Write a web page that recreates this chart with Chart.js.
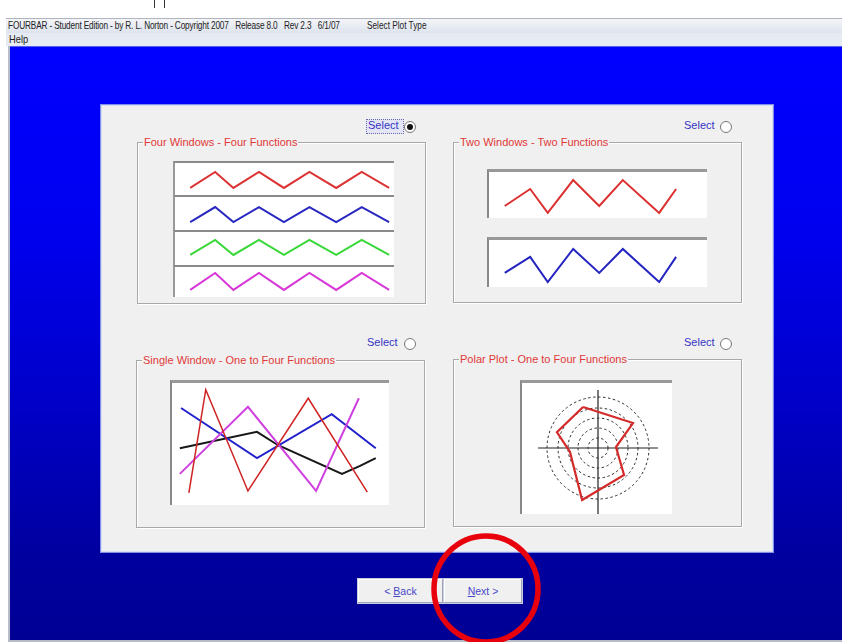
<!DOCTYPE html>
<html><head><meta charset="utf-8">
<script src="https://cdn.jsdelivr.net/npm/chart.js@4.4.0/dist/chart.umd.min.js"></script>
<style>
html,body{margin:0;padding:0;width:842px;height:642px;overflow:hidden;background:#fff;font-family:"Liberation Sans",Arial,sans-serif;}
div,span,canvas,svg{position:absolute;}
#topmark1{left:154px;top:0;width:1px;height:8px;background:#333;}
#topmark2{left:164px;top:0;width:1px;height:8px;background:#333;}
#titlebar{left:6px;top:18px;width:836px;height:14px;background:linear-gradient(#f4f5f8,#dde3ee);border-top:1px solid #b0b4c0;}
#titletext{left:2px;top:0px;font-size:11px;color:#222;white-space:pre;transform:scaleX(0.75);transform-origin:0 0;letter-spacing:-0.2px;}
#titletext2{left:361px;top:0px;font-size:11px;color:#222;white-space:pre;transform:scaleX(0.75);transform-origin:0 0;}
#menubar{left:6px;top:33px;width:836px;height:13px;background:#e6eaf2;}
#menutext{left:3px;top:0px;font-size:11px;color:#222;transform:scaleX(0.85);transform-origin:0 0;}
#leftstrip{left:0;top:18px;width:8px;height:624px;background:#fff;}
#leftline{left:8px;top:46px;width:2px;height:596px;background:#b8bcc8;}
#blue{left:10px;top:46px;width:832px;height:594px;background:linear-gradient(#0000ff 0%,#0000f0 30%,#0000c8 60%,#0000a0 85%,#000094 100%);border-top:1px solid #5060e8;}
#bottomline{left:8px;top:640px;width:834px;height:2px;background:#b8bcc8;}
#panel{left:101px;top:105px;width:670px;height:445px;background:#f0f0f0;border:1px solid #d8dcf4;box-shadow:0 0 0 1px #8090e8;}
.group{border:1px solid #a8a8a8;box-shadow:inset 1px 1px 0 #fff,1px 1px 0 #fff;}
.gtitle{top:-7px;left:5px;background:#f0f0f0;color:#e03838;font-size:11px;white-space:nowrap;letter-spacing:0px;padding:0 1px;}
.sel{color:#3434c4;font-size:11px;white-space:nowrap;letter-spacing:0px;}
.radio{width:10px;height:10px;border-radius:50%;border:1px solid #777;background:#fff;}
.dot{left:2px;top:2px;width:6px;height:6px;border-radius:50%;background:#111;}
.strip{background:#fff;border-top:2px solid #8a8a8a;border-left:2px solid #9a9a9a;}
.strip3{background:#fff;border-top:3px solid #999;border-left:2px solid #888;}
.btn{height:24px;top:578px;background:#f0f0f0;border:1px solid #c8cce0;box-shadow:inset -1px -1px 0 #a0a4b8, inset 1px 1px 0 #fff;color:#4646c8;font-size:10.5px;text-align:center;line-height:24px;}
</style></head>
<body>
<div id="topmark1"></div><div id="topmark2"></div>
<div id="leftstrip"></div>
<div id="titlebar"><span id="titletext">FOURBAR - Student Edition - by R. L. Norton - Copyright 2007   Release 8.0   Rev 2.3   6/1/07</span><span id="titletext2">Select Plot Type</span></div>
<div id="menubar"><span id="menutext">Help</span></div>
<div id="leftline"></div>
<div id="blue"></div>
<div id="bottomline"></div>
<div id="panel"></div>

<!-- group frames -->
<div class="group" style="left:137px;top:142px;width:287px;height:160px;"><span class="gtitle">Four Windows - Four Functions</span></div>
<div class="group" style="left:453px;top:142px;width:287px;height:159px;"><span class="gtitle">Two Windows - Two Functions</span></div>
<div class="group" style="left:136px;top:360px;width:287px;height:166px;"><span class="gtitle">Single Window - One to Four Functions</span></div>
<div class="group" style="left:453px;top:359px;width:287px;height:166px;"><span class="gtitle">Polar Plot - One to Four Functions</span></div>

<!-- select labels -->
<div style="left:366px;top:119px;width:36px;height:13px;border:1px dotted #6a6ab0;background:#e4e6f6;"></div>
<span class="sel" style="left:368px;top:119px;">Select</span>
<div class="radio" style="left:404px;top:121px;"><div class="dot"></div></div>
<span class="sel" style="left:684px;top:119px;">Select</span>
<div class="radio" style="left:720px;top:121px;"></div>
<span class="sel" style="left:367px;top:336px;">Select</span>
<div class="radio" style="left:404px;top:338px;"></div>
<span class="sel" style="left:684px;top:336px;">Select</span>
<div class="radio" style="left:720px;top:338px;"></div>

<!-- chart holders -->
<div class="strip" style="left:173px;top:161px;width:219px;height:32px;"><canvas id="c4a" width="219" height="32"></canvas></div>
<div class="strip" style="left:173px;top:195px;width:219px;height:33px;"><canvas id="c4b" width="219" height="33"></canvas></div>
<div class="strip" style="left:173px;top:230px;width:219px;height:33px;"><canvas id="c4c" width="219" height="33"></canvas></div>
<div class="strip" style="left:173px;top:265px;width:219px;height:30px;"><canvas id="c4d" width="219" height="30"></canvas></div>

<div class="strip3" style="left:487px;top:169px;width:218px;height:46px;"><canvas id="c2a" width="218" height="46"></canvas></div>
<div class="strip3" style="left:487px;top:237px;width:218px;height:47px;"><canvas id="c2b" width="218" height="47"></canvas></div>

<div class="strip3" style="left:170px;top:380px;width:217px;height:122px;"><canvas id="c1" width="217" height="122"></canvas></div>

<div class="strip3" style="left:520px;top:380px;width:150px;height:131px;"><canvas id="cp" width="150" height="131"></canvas></div>

<!-- buttons -->
<div class="btn" style="left:357px;width:85px;">&lt; <u>B</u>ack</div>
<div class="btn" style="left:443px;width:78px;"><u>N</u>ext &gt;</div>

<svg style="left:0;top:0;" width="842" height="642"><ellipse cx="486" cy="589" rx="52" ry="53" fill="none" stroke="#e8000c" stroke-width="5.5"/></svg>

<script>
// ---------- data ----------
// Four windows (crank angle, deg)
const fourX = [25, 66, 96, 138, 179, 221, 265, 307, 352];
const fourRed = [-0.56, 0.44, -0.56, 0.44, -0.56, 0.44, -0.56, 0.44, -0.56];
const fourBlue = [-0.52, 0.39, -0.52, 0.39, -0.52, 0.39, -0.52, 0.39, -0.52];
const fourGreen = [-0.39, 0.52, -0.39, 0.52, -0.39, 0.52, -0.39, 0.52, -0.39];
const fourMagenta = [-0.53, 0.60, -0.53, 0.60, -0.53, 0.60, -0.53, 0.60, -0.53];

// Two windows
const twoX = [26, 68, 97, 139, 182, 221, 281, 309];
const twoRed = [-0.48, 0.26, -0.78, 0.65, -0.48, 0.65, -0.78, 0.26];
const twoBlue = [-0.40, 0.28, -0.79, 0.62, -0.40, 0.62, -0.79, 0.28];

// Single window, four functions
const singleRedX = [28, 56, 126, 226, 324];
const singleRedY = [-0.80, 0.89, -0.77, 0.75, -0.79];
const singleMagentaX = [13, 126, 239, 310];
const singleMagentaY = [-0.49, 0.61, -0.77, 0.75];
const singleBlueX = [15, 141, 265, 338];
const singleBlueY = [0.59, -0.23, 0.49, -0.07];
const singleBlackX = [13, 141, 176, 282, 312, 338];
const singleBlackY = [-0.07, 0.20, -0.02, -0.49, -0.36, -0.23];

// Polar plot
const polarAngleDeg = [110, 35.5, 3, 314, 253, 188, 159, 110];
const polarRadius = [43.7, 43, 18, 37.5, 54.4, 28.3, 44, 43.7];
const polarRings = [10, 20, 30, 40, 51];
const polarAxisX = [-60, 60];
const polarAxisY = [58, -66];

// ---------- helpers ----------
Chart.defaults.animation = false;
function pts(xs, ys) { return xs.map((x, i) => ({ x: x, y: ys[i] })); }
function ds(data, color, width) {
  return { data: data, borderColor: color, borderWidth: width, showLine: true, pointRadius: 0, fill: false, tension: 0 };
}
function make(id, datasets, xr, yr, plugins) {
  return new Chart(document.getElementById(id), {
    type: 'scatter',
    data: { datasets: datasets },
    options: {
      responsive: false, maintainAspectRatio: false, devicePixelRatio: 1,
      layout: { padding: 0 },
      plugins: { legend: { display: false }, tooltip: { enabled: false } },
      scales: {
        x: { type: 'linear', display: false, min: xr[0], max: xr[1] },
        y: { type: 'linear', display: false, min: yr[0], max: yr[1] }
      }
    },
    plugins: plugins || []
  });
}

make('c4a', [ds(pts(fourX, fourRed), '#dc3434', 2)], [0, 360], [-1, 1]);
make('c4b', [ds(pts(fourX, fourBlue), '#2828c0', 2)], [0, 360], [-1, 1]);
make('c4c', [ds(pts(fourX, fourGreen), '#38d838', 2)], [0, 360], [-1, 1]);
make('c4d', [ds(pts(fourX, fourMagenta), '#d838d8', 2)], [0, 360], [-1, 1]);

make('c2a', [ds(pts(twoX, twoRed), '#dc3030', 2)], [0, 360], [-1, 1]);
make('c2b', [ds(pts(twoX, twoBlue), '#2424c0', 2)], [0, 360], [-1, 1]);

make('c1', [
  ds(pts(singleRedX, singleRedY), '#d02424', 1.5),
  ds(pts(singleMagentaX, singleMagentaY), '#d040e0', 2),
  ds(pts(singleBlueX, singleBlueY), '#2222cc', 2),
  ds(pts(singleBlackX, singleBlackY), '#181818', 2)
], [0, 360], [-1, 1]);

const ringPlugin = {
  id: 'rings',
  beforeDatasetsDraw(chart) {
    const ctx = chart.ctx, sx = chart.scales.x, sy = chart.scales.y;
    const cx = sx.getPixelForValue(0), cy = sy.getPixelForValue(0);
    ctx.save();
    ctx.strokeStyle = '#2a2a2a';
    ctx.lineWidth = 1;
    ctx.setLineDash([2.5, 2.5]);
    polarRings.forEach(r => {
      const rp = sx.getPixelForValue(r) - cx;
      ctx.beginPath();
      ctx.arc(cx, cy, rp, 0, Math.PI * 2);
      ctx.stroke();
    });
    ctx.restore();
  }
};
const polyData = polarAngleDeg.map((a, i) => ({
  x: polarRadius[i] * Math.cos(a * Math.PI / 180),
  y: polarRadius[i] * Math.sin(a * Math.PI / 180)
}));
make('cp', [
  ds(polyData, '#d42a2a', 2.2),
  ds(polarAxisX.map(v => ({ x: v, y: 0 })), '#222', 1.2),
  ds(polarAxisY.map(v => ({ x: 0, y: v })), '#222', 1.2)
], [-76, 74], [-66, 65], [ringPlugin]);
</script>
</body></html>
